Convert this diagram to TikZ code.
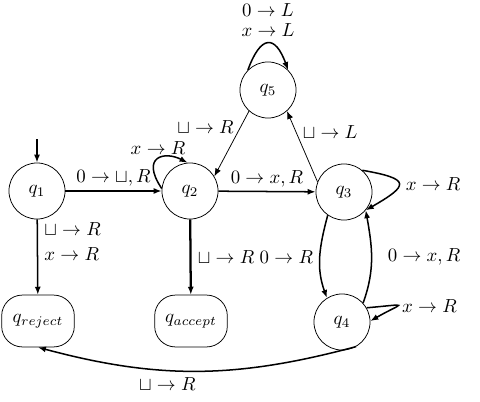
\documentclass[tikz,border=0pt]{standalone}
\usepackage{amsmath,amssymb}
\usepackage{tikz}
\usetikzlibrary{arrows.meta,positioning}
\begin{document}
\begin{tikzpicture}[
  x=0.53pt, y=0.53pt,
  state/.style={draw, circle, minimum size=29.7pt, inner sep=0pt},
  halt/.style={draw, rectangle, rounded corners=11pt, minimum width=38.5pt, minimum height=27.5pt, inner sep=1pt},
  edge/.style={thick, -{Latex[length=4.2pt,width=3.2pt]}},
  lab/.style={inner sep=2pt}
]
\useasboundingbox (0,0) rectangle (480,401);
\foreach \n/\x/\y in {1/37/210, 2/190/210, 3/344/209, 4/342/79, 5/268/311} {
  \node[state] (q\n) at (\x,\y) {$q_\n$};
}
\node[halt] (qrej) at (38,80) {$q_{reject}$};
\node[halt] (qacc) at (191,80) {$q_{accept}$};
\coordinate (start) at (37,262);

\draw[edge] (start) -- (q1);
\draw[edge] (q1) -- node[above, lab] {$0\to\sqcup,R$} (q2);
\draw[edge] (q2) -- node[above, lab] {$0\to x,R$} (q3);
\draw[edge] (q1) -- node[right, pos=0.3, align=left] {$\sqcup\to R$\\[1.2pt] $x\to R$} (qrej);
\draw[edge, very thick] (q2) -- node[right] {$\sqcup\to R$} (qacc);
\draw[edge, thin] (q5.228) -- node[left, pos=0.25] {$\sqcup\to R$} (q2.31);
\draw[edge, thin] (q3.159) -- node[right, pos=0.7] {$\sqcup\to L$} (q5.-48);
\draw[edge] (q3.235) to[out=255, in=110] node[left] {$0\to R$} (q4.122);
\draw[edge] (q4.42) to[out=70, in=-80] node[right=5pt] {$0\to x,R$} (q3.-40);
\draw[edge] (q4.-60) to[out=195, in=-15] node[below, pos=0.6] {$\sqcup\to R$} (qrej.south);

% loops
\draw[edge] (q2.175) .. controls (140,245) and (165,250) .. node[above, lab] {$x\to R$} (q2.95);
\draw[edge] (q5.135) to[out=70, in=110, looseness=2.4] node[above, align=center] {$0\to L$\\[-1.5pt] $x\to L$} (q5.45);
\draw[edge] (q3.50) to[out=-10, in=30, looseness=3.2] node[right] {$x\to R$} (q3.-40);
\draw[edge] (q4.30) to[out=5, in=30, out distance=24pt, in distance=20pt] node[right, lab] {$x\to R$} (q4.2);
\end{tikzpicture}
\end{document}
